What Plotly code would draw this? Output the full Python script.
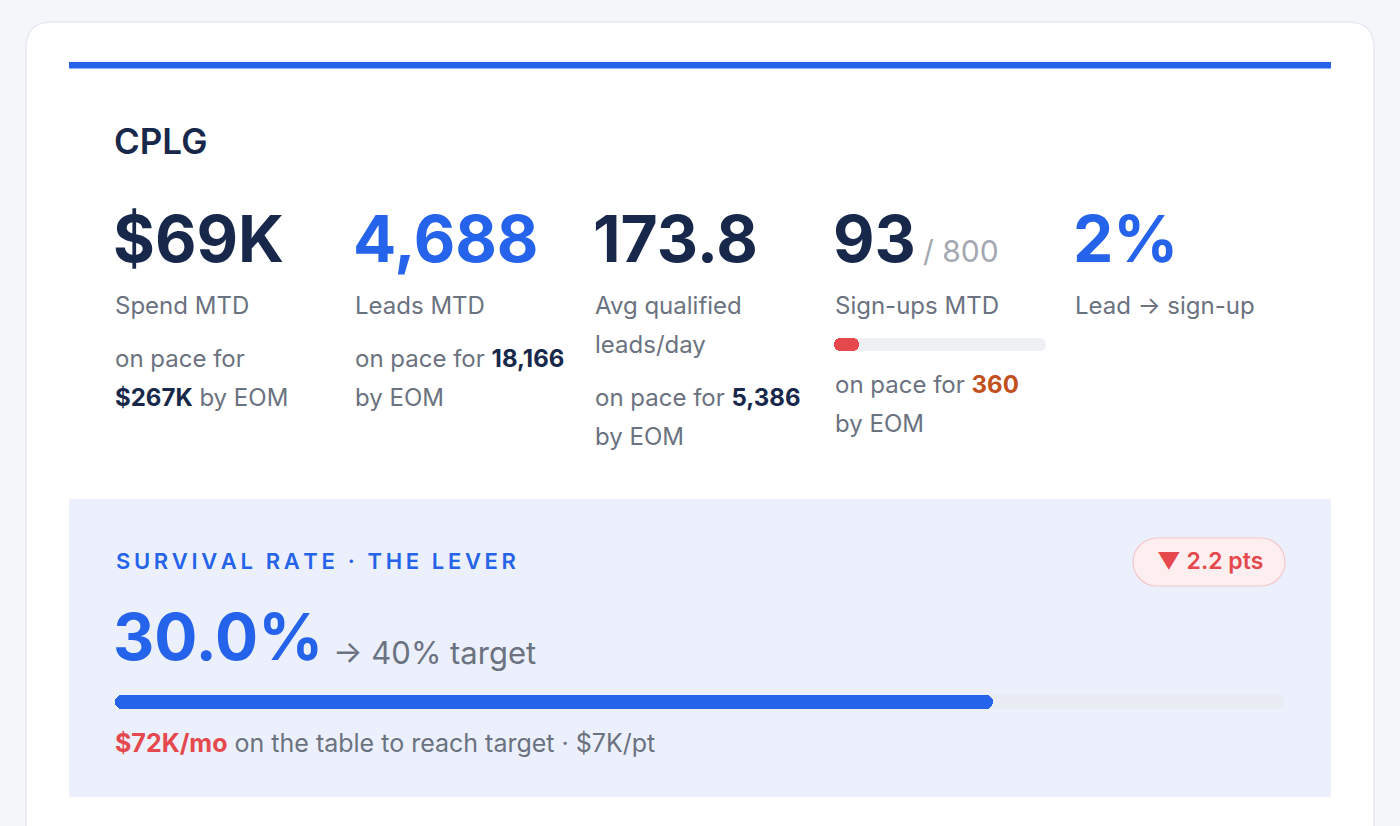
import plotly.graph_objects as go

# dados do card
titulo = "CPLG"
kpi_valores = ["$69K", "4,688", "173.8", "93", "2%"]
kpi_cores = ["#17284a", "#2563eb", "#17284a", "#17284a", "#2563eb"]
kpi_rotulos = [["Spend MTD"], ["Leads MTD"], ["Avg qualified", "leads/day"], ["Sign-ups MTD"], ["Lead \u2192 sign-up"]]
ritmo_valores = ["$267K", "18,166", "5,386", "360", None]
ritmo_cores = ["#17284a", "#17284a", "#17284a", "#c2501c", None]
signups_mtd = [93]
signups_meta = [800]
sobrevivencia = [30.0]
sobrevivencia_meta = [40]
variacao_pts = -2.2
na_mesa_k = 72
por_ponto_k = 7

W, H = 1400, 826
FONTE = "Inter, Roboto, sans-serif"
NAVY = "#17284a"
AZUL = "#2563eb"
CINZA = "#6b7280"
VERMELHO = "#e5484d"

fig = go.Figure()


def barra(valor, cor, eixo_x, eixo_y, raio):
    # com base explicita o plotly arredonda as duas pontas
    fig.add_trace(go.Bar(x=valor, base=[0] * len(valor), y=[0], orientation="h", width=1,
                         marker=dict(color=cor, cornerradius=raio, line_width=0),
                         xaxis=eixo_x, yaxis=eixo_y, hoverinfo="skip", showlegend=False))


# barrinha de sign-ups (trilho + preenchimento)
barra(signups_meta, "#eef0f4", "x2", "y2", 6.5)
barra(signups_mtd, VERMELHO, "x2", "y2", 6.5)
# barra da taxa de sobrevivencia
barra(sobrevivencia_meta, "#e9ecf2", "x3", "y3", 7)
barra(sobrevivencia, AZUL, "x3", "y3", 7)


def dom_x(a, b):
    return [a / W, b / W]


def dom_y(top, bottom):
    return [1 - bottom / H, 1 - top / H]


eixo_off = dict(visible=False, fixedrange=True, showgrid=False, zeroline=False)

shapes = []
# card branco com cantos arredondados em cima
r = 26
x0, x1, y0, y1 = 26, 1374, 22, 840
shapes.append(dict(type="path", xref="x", yref="y", layer="below",
                   path=f"M {x0},{y1} L {x0},{y0 + r} Q {x0},{y0} {x0 + r},{y0} L {x1 - r},{y0} Q {x1},{y0} {x1},{y0 + r} L {x1},{y1} Z",
                   fillcolor="white", line=dict(color="#e6e9f0", width=1.5)))
# faixa azul no topo
shapes.append(dict(type="rect", xref="x", yref="y", x0=69, x1=1331, y0=62, y1=68.5, fillcolor=AZUL, line_width=0, layer="below"))
# painel da alavanca
shapes.append(dict(type="rect", xref="x", yref="y", x0=69, x1=1331, y0=499, y1=797, fillcolor="#ecf0fc", line_width=0, layer="below"))
# pilula do badge
bx0, bx1, by0, by1 = 1133, 1285, 538, 586
br = (by1 - by0) / 2
cy = (by0 + by1) / 2
k = 0.5523 * br
shapes.append(dict(type="path", xref="x", yref="y", layer="below",
                   path=(f"M {bx0 + br},{by0} L {bx1 - br},{by0} "
                         f"C {bx1 - br + k},{by0} {bx1},{cy - k} {bx1},{cy} "
                         f"C {bx1},{cy + k} {bx1 - br + k},{by1} {bx1 - br},{by1} "
                         f"L {bx0 + br},{by1} "
                         f"C {bx0 + br - k},{by1} {bx0},{cy + k} {bx0},{cy} "
                         f"C {bx0},{cy - k} {bx0 + br - k},{by0} {bx0 + br},{by0} Z"),
                   fillcolor="#fdeef0", line=dict(color="#f5c6ca", width=1.2)))

ann = []


def txt(x, y, s, size, cor, peso=400, xanchor="left"):
    ann.append(dict(x=x, y=y, xref="x", yref="y", text=s, showarrow=False, xanchor=xanchor, yanchor="middle",
                    font=dict(family=FONTE, size=size, color=cor, weight=peso)))


txt(112, 141, titulo, 35, NAVY, 600)

colunas = [115, 355, 595, 835, 1075]
ROT = 24
for i, cx in enumerate(colunas):
    txt(cx - 4, 238, kpi_valores[i], 64, kpi_cores[i], 700)
    for j, rot in enumerate(kpi_rotulos[i]):
        txt(cx - 2, 305 + j * 39, rot, ROT, CINZA)

txt(921, 251, f"/ {signups_meta[0]}", 30, "#a3a8b3")

# linhas de "on pace for"
b = lambda v, c: f"<span style='color:{c}'><b>{v}</b></span>"
txt(colunas[0] - 2, 358, "on pace for", ROT, CINZA)
txt(colunas[0] - 2, 397, b(ritmo_valores[0], ritmo_cores[0]) + " by EOM", ROT, CINZA)
txt(colunas[1] - 2, 358, "on pace for " + b(ritmo_valores[1], ritmo_cores[1]), ROT, CINZA)
txt(colunas[1] - 2, 397, "by EOM", ROT, CINZA)
txt(colunas[2] - 2, 397, "on pace for " + b(ritmo_valores[2], ritmo_cores[2]), ROT, CINZA)
txt(colunas[2] - 2, 436, "by EOM", ROT, CINZA)
txt(colunas[3] - 2, 384, "on pace for " + b(ritmo_valores[3], ritmo_cores[3]), ROT, CINZA)
txt(colunas[3] - 2, 423, "by EOM", ROT, CINZA)

# painel da taxa de sobrevivencia
cabecalho = "SURVIVAL RATE \u00b7 THE LEVER"
txt(114, 561, "\u2009".join(cabecalho), 22, AZUL, 600)
seta = "\u25bc" if variacao_pts < 0 else "\u25b2"
txt(1210, 561, f"{seta} {abs(variacao_pts):.1f} pts", 23, VERMELHO, 600, xanchor="center")
txt(111, 636, f"{sobrevivencia[0]:.1f}%", 64, AZUL, 700)
txt(331, 652, f"\u2192 {sobrevivencia_meta[0]}% target", 31, CINZA)
txt(113, 743, f"<span style='color:{VERMELHO}'><b>${na_mesa_k}K/mo</b></span> on the table to reach target \u00b7 ${por_ponto_k}K/pt", 25, CINZA)

fig.update_layout(
    width=W, height=H, margin=dict(l=0, r=0, t=0, b=0),
    paper_bgcolor="#f5f6fa", plot_bgcolor="rgba(0,0,0,0)",
    barmode="overlay", bargap=0,
    xaxis=dict(range=[0, W], domain=[0, 1], **eixo_off),
    yaxis=dict(range=[H, 0], domain=[0, 1], **eixo_off),
    xaxis2=dict(range=[0, signups_meta[0]], domain=dom_x(834, 1046), anchor="y2", **eixo_off),
    yaxis2=dict(range=[-0.5, 0.5], domain=dom_y(338, 351), anchor="x2", **eixo_off),
    xaxis3=dict(range=[0, sobrevivencia_meta[0]], domain=dom_x(115, 1285), anchor="y3", **eixo_off),
    yaxis3=dict(range=[-0.5, 0.5], domain=dom_y(695, 709), anchor="x3", **eixo_off),
    shapes=shapes, annotations=ann, showlegend=False,
)

fig.write_html("out.html", config={"displayModeBar": False},
               post_script="document.body.style.margin='0';document.body.style.overflow='hidden';")
